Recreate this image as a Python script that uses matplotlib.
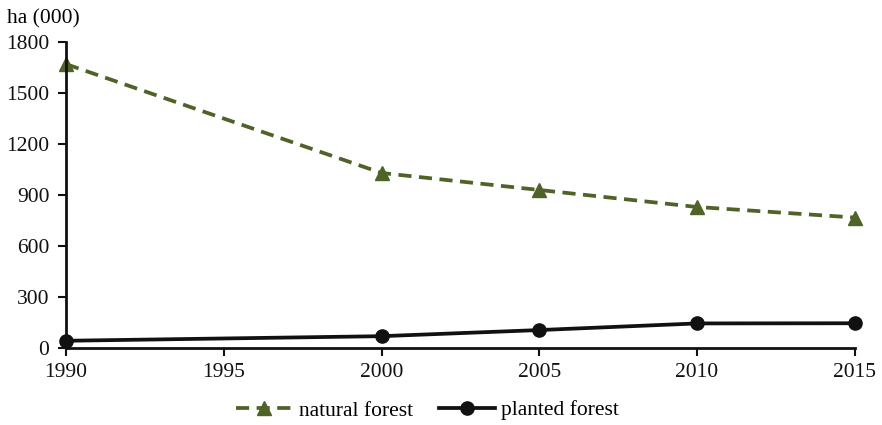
import matplotlib
matplotlib.use("Agg")
import matplotlib.pyplot as plt

years = [1990, 2000, 2005, 2010, 2015]
natural_forest = [1670, 1030, 930, 830, 768]
planted_forest = [43, 70, 106, 145, 146]
y_ticks = [0, 300, 600, 900, 1200, 1500, 1800]
x_ticks = [1990, 1995, 2000, 2005, 2010, 2015]

plt.rcParams['font.family'] = ['Liberation Serif', 'DejaVu Serif']
fig = plt.figure(figsize=(8.82, 4.25), dpi=100)
ax = fig.add_axes([0.075, 0.181, 0.894, 0.72])

ax.plot(years, natural_forest, color='#4f6228', linestyle=(0, (3.5, 2)), linewidth=2.7,
        marker='^', markersize=10, label='natural forest', clip_on=False)
ax.plot(years, planted_forest, color='#111111', linestyle='-', linewidth=2.7,
        marker='o', markersize=9.5, label='planted forest', clip_on=False)

ax.set_xlim(1990, 2015)
ax.set_ylim(0, 1800)
ax.set_xticks(x_ticks)
ax.set_yticks(y_ticks)
ax.tick_params(labelsize=15.5, length=6, width=1.5, direction='out', colors='#111111')
ax.tick_params(axis='x', pad=5)
ax.tick_params(axis='y', pad=6)
for s in ['top', 'right']:
    ax.spines[s].set_visible(False)
for s in ['left', 'bottom']:
    ax.spines[s].set_linewidth(2)
    ax.spines[s].set_color('#111111')

fig.text(0.008, 0.978, 'ha (000)', fontsize=15.5, va='top', ha='left')

leg = fig.legend(loc='lower center', bbox_to_anchor=(0.485, -0.035), ncol=2, frameon=False,
                 fontsize=15.5, handlelength=2.6, columnspacing=1.2, handletextpad=0.3)

fig.savefig('out.png', dpi=100)
